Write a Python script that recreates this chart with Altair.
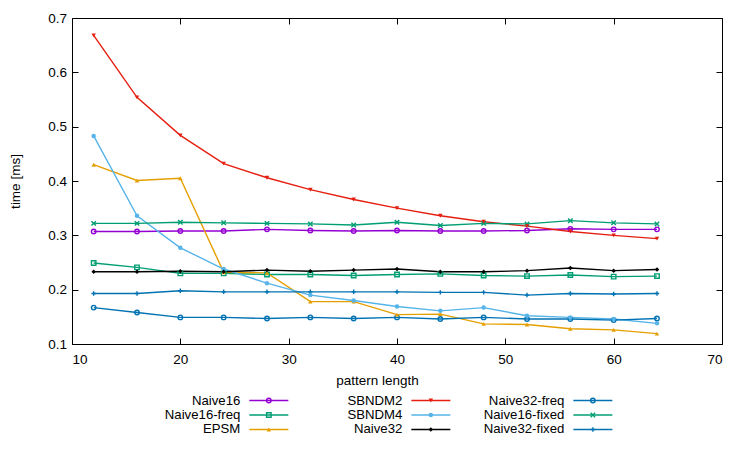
import altair as alt
import pandas as pd

lengths = [12, 16, 20, 24, 28, 32, 36, 40, 44, 48, 52, 56, 60, 64]
naive16 = [0.307, 0.307, 0.308, 0.308, 0.311, 0.309, 0.308, 0.309, 0.308, 0.308, 0.309, 0.312, 0.311, 0.311]
naive16_freq = [0.249, 0.241, 0.230, 0.230, 0.228, 0.228, 0.226, 0.228, 0.229, 0.226, 0.225, 0.227, 0.224, 0.225]
epsm = [0.430, 0.401, 0.405, 0.232, 0.231, 0.178, 0.178, 0.154, 0.155, 0.137, 0.136, 0.128, 0.126, 0.119]
sbndm2 = [0.668, 0.554, 0.484, 0.432, 0.406, 0.384, 0.366, 0.350, 0.336, 0.325, 0.317, 0.307, 0.300, 0.294]
sbndm4 = [0.483, 0.336, 0.277, 0.238, 0.212, 0.190, 0.180, 0.169, 0.161, 0.167, 0.152, 0.149, 0.146, 0.138]
naive32 = [0.233, 0.233, 0.234, 0.233, 0.236, 0.234, 0.236, 0.238, 0.233, 0.233, 0.235, 0.240, 0.235, 0.237]
naive32_freq = [0.167, 0.158, 0.149, 0.149, 0.147, 0.149, 0.147, 0.149, 0.146, 0.149, 0.146, 0.146, 0.144, 0.147]
naive16_fixed = [0.322, 0.322, 0.324, 0.323, 0.322, 0.321, 0.319, 0.324, 0.318, 0.322, 0.321, 0.327, 0.323, 0.321]
naive32_fixed = [0.193, 0.193, 0.198, 0.196, 0.196, 0.196, 0.196, 0.196, 0.195, 0.195, 0.190, 0.193, 0.192, 0.193]

series_names = ["Naive16", "Naive16-freq", "EPSM", "SBNDM2", "SBNDM4", "Naive32",
                "Naive32-freq", "Naive16-fixed", "Naive32-fixed"]
series_values = [naive16, naive16_freq, epsm, sbndm2, sbndm4, naive32,
                 naive32_freq, naive16_fixed, naive32_fixed]
series_colors = ["#9400d3", "#009e73", "#e69f00", "#e51e10", "#56b4e9", "#000000",
                 "#0072b2", "#009e73", "#0072b2"]
series_shapes = ["circle", "square", "triangle-up", "triangle-down", "circle", "diamond",
                 "circle", "M-1,-1L1,1M1,-1L-1,1", "M-1,0L1,0M0,-1L0,1"]
series_open = [True, True, False, False, False, False, True, True, True]
series_sizes = [20, 20, 30, 30, 8, 24, 20, 20, 30]
legend_col = [0, 0, 0, 1, 1, 1, 2, 2, 2]
legend_row = [0, 1, 2, 0, 1, 2, 0, 1, 2]

x_ticks = [10, 20, 30, 40, 50, 60, 70]
y_ticks = [0.1, 0.2, 0.3, 0.4, 0.5, 0.6, 0.7]

rows = []
for name, vals, op in zip(series_names, series_values, series_open):
    for L, v in zip(lengths, vals):
        rows.append({"series": name, "length": L, "time": v, "open": op})
df = pd.DataFrame(rows)

leg_df = pd.DataFrame({"series": series_names, "col": legend_col, "row": legend_row,
                       "open": series_open})

FONT = "Liberation Sans"
W, H = 650, 326

xs = alt.Scale(domain=[10, 70], nice=False, zero=False)
ys = alt.Scale(domain=[0.1, 0.7], nice=False, zero=False)
cs = alt.Scale(domain=series_names, range=series_colors)
ss = alt.Scale(domain=series_names, range=series_shapes)
zs = alt.Scale(domain=series_names, range=series_sizes)

color = alt.Color("series:N", scale=cs, legend=None)
shape = alt.Shape("series:N", scale=ss, legend=None)
size = alt.Size("series:N", scale=zs, legend=None)

base = alt.Chart(df)

lines = base.mark_line(strokeWidth=1.4).encode(
    x=alt.X("length:Q", scale=xs, axis=alt.Axis(
        orient="bottom", values=x_ticks, ticks=False, domain=False, grid=False,
        labelFontSize=13.5, labelFont=FONT, labelColor="black", labelPadding=8,
        title="pattern length", titleFont=FONT, titleFontSize=13.5,
        titleFontWeight="normal", titleColor="black", titlePadding=8, titleX=305)),
    y=alt.Y("time:Q", scale=ys, axis=alt.Axis(
        orient="left", values=y_ticks, format=".1f", ticks=False, domain=False, grid=False,
        labelFontSize=13.5, labelFont=FONT, labelColor="black", labelPadding=5.5,
        title="time [ms]", titleFont=FONT, titleFontSize=13.5,
        titleFontWeight="normal", titleColor="black", titlePadding=25)),
    color=color,
)

pts_open = base.transform_filter("datum.open").mark_point(
    filled=False, strokeWidth=1.4, opacity=1).encode(
    x=alt.X("length:Q", scale=xs, axis=alt.Axis(
        orient="top", offset=-H, values=x_ticks, ticks=True, tickSize=6,
        tickColor="black", labels=False, domain=False, grid=False, title=None)),
    y=alt.Y("time:Q", scale=ys, axis=alt.Axis(
        orient="right", offset=-W, values=y_ticks, ticks=True, tickSize=6,
        tickColor="black", labels=False, domain=False, grid=False, title=None)),
    color=color, shape=shape, size=size,
)

pts_fill = base.transform_filter("!datum.open").mark_point(
    filled=True, opacity=1).encode(
    x=alt.X("length:Q", scale=xs, axis=alt.Axis(
        orient="bottom", offset=-H, values=x_ticks, ticks=True, tickSize=6,
        tickColor="black", labels=False, domain=False, grid=False, title=None)),
    y=alt.Y("time:Q", scale=ys, axis=alt.Axis(
        orient="left", offset=-W, values=y_ticks, ticks=True, tickSize=6,
        tickColor="black", labels=False, domain=False, grid=False, title=None)),
    color=color, shape=shape, size=size,
)

main = alt.layer(lines, pts_open, pts_fill).resolve_axis(
    x="independent", y="independent").properties(width=W, height=H)

LW, LH = 650, 44
lxs = alt.Scale(domain=[-1.039, 2.973], nice=False, zero=False)
lys = alt.Scale(domain=[-0.52, 2.52], nice=False, zero=False, reverse=True)
lbase = alt.Chart(leg_df)
lx = alt.X("col:Q", scale=lxs, axis=None)
ly = alt.Y("row:Q", scale=lys, axis=None)

leg_text = lbase.mark_text(align="right", baseline="middle", fontSize=13.2, font=FONT,
                           color="black").encode(x=lx, y=ly, text="series:N")
leg_rule = lbase.mark_rule(xOffset=9, x2Offset=48, strokeWidth=1.4).encode(
    x=lx, x2="col:Q", y=ly, color=color)
leg_open = lbase.transform_filter("datum.open").mark_point(
    filled=False, strokeWidth=1.4, opacity=1, xOffset=28.5).encode(
    x=lx, y=ly, color=color, shape=shape, size=size)
leg_fill = lbase.transform_filter("!datum.open").mark_point(
    filled=True, opacity=1, xOffset=28.5).encode(
    x=lx, y=ly, color=color, shape=shape, size=size)

legend = alt.layer(leg_text, leg_rule, leg_open, leg_fill).properties(
    width=LW, height=LH, view=alt.ViewBackground(stroke="transparent"))

chart = alt.vconcat(main, legend, spacing=4).properties(
    padding={"left": 0, "top": 2, "right": 5, "bottom": 5},
    background="white",
).configure_view(stroke="black", strokeWidth=1)

chart.save("out.html", embed_options={"renderer": "svg", "actions": False})
